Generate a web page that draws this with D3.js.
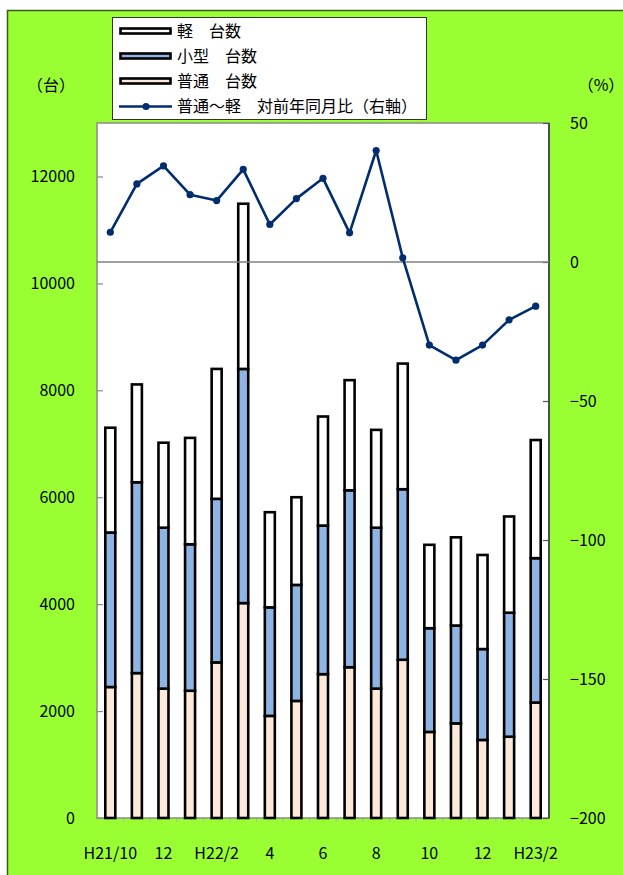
<!DOCTYPE html>
<html><head><meta charset="utf-8">
<script src="https://cdn.jsdelivr.net/npm/d3@7/dist/d3.min.js"></script>
<style>html,body{margin:0;padding:0;background:#fff;}svg{display:block;}</style>
</head><body>
<script>
const categories = ["H21/10","H21/11","H21/12","H22/1","H22/2","H22/3","H22/4","H22/5","H22/6","H22/7","H22/8","H22/9","H22/10","H22/11","H22/12","H23/1","H23/2"];
const tickLabels = ["H21/10","","12","","H22/2","","4","","6","","8","","10","","12","","H23/2"];
const futsu = [2450,2710,2420,2380,2910,4020,1910,2190,2690,2820,2420,2960,1610,1770,1460,1520,2160];
const kogata = [2890,3570,3010,2740,3060,4380,2030,2170,2780,3310,3010,3190,1940,1830,1700,2320,2700];
const kei = [1960,1830,1590,1990,2430,3090,1780,1640,2040,2060,1830,2350,1560,1650,1760,1800,2210];
const yoyPct = [10.7,28.1,34.6,24.2,22.1,33.3,13.5,22.8,30.1,10.5,40.1,1.5,-29.9,-35.3,-29.9,-20.8,-15.9];
const leftTicks = [0,2000,4000,6000,8000,10000,12000];
const rightTicks = [-200,-150,-100,-50,0,50];
const seriesNames = ["軽　台数","小型　台数","普通　台数","普通〜軽　対前年同月比（右軸）"];
const seriesColors = ["#ffffff","#8db4e2","#fde9d9"];
const lineColor = "#002d6e";

const W = 623, H = 875;
const L = 97, R = 549, T = 123, B = 818;
const font = "'Noto Sans CJK JP','Noto Sans',sans-serif";

const svg = d3.select("body").append("svg").attr("width", W).attr("height", H)
  .style("font-family", font);

svg.append("rect").attr("x", 7.5).attr("y", 10.5).attr("width", W).attr("height", H)
  .attr("fill", "#99ff33").attr("stroke", "#3c5a1e").attr("stroke-width", 1.5);

const x = d3.scaleBand().domain(categories).range([L, R]);
const yL = d3.scaleLinear().domain([0, 13000]).range([B, T]);
const yR = d3.scaleLinear().domain([-200, 50]).range([B, T]);

// plot area
svg.append("rect").attr("x", L).attr("y", T).attr("width", R - L).attr("height", B - T)
  .attr("fill", "#fff").attr("stroke", "#8a8a8a").attr("stroke-width", 1.5);
svg.append("line").attr("x1", R).attr("x2", R).attr("y1", T).attr("y2", B)
  .attr("stroke", "#333").attr("stroke-width", 1.5);

// left ticks inward
const leftAxis = d3.axisLeft(yL).tickValues(leftTicks).tickSize(-6).tickPadding(22).tickFormat(d3.format("d"));
const gL = svg.append("g").attr("transform", `translate(${L},0)`).call(leftAxis);
gL.select(".domain").remove();
gL.selectAll(".tick line").attr("stroke", "#8a8a8a").attr("stroke-width", 1.2);
gL.selectAll(".tick text").attr("font-size", 16).attr("fill", "#000").attr("font-family", font);

const rightAxis = d3.axisRight(yR).tickValues(rightTicks).tickSize(-6).tickPadding(21)
  .tickFormat(d => d < 0 ? "−" + Math.abs(d) : String(d));
const gR = svg.append("g").attr("transform", `translate(${R},0)`).call(rightAxis);
gR.select(".domain").remove();
gR.selectAll(".tick line").attr("stroke", "#555").attr("stroke-width", 1.2);
gR.selectAll(".tick text").attr("font-size", 16).attr("fill", "#000").attr("font-family", font);

// bottom small ticks at band boundaries
svg.append("g").selectAll("line").data(categories.slice(1)).join("line")
  .attr("x1", d => x(d)).attr("x2", d => x(d)).attr("y1", B + 1).attr("y2", B + 4)
  .attr("stroke", "#b0b0b0").attr("stroke-width", 1);

// x labels
const xAxis = d3.axisBottom(x).tickSize(0).tickPadding(30).tickFormat((d, i) => tickLabels[i]);
const gX = svg.append("g").attr("transform", `translate(0,${B})`).call(xAxis);
gX.select(".domain").remove();
gX.selectAll(".tick text").attr("font-size", 16).attr("fill", "#000").attr("font-family", font);

// stacked bars
const rows = categories.map((c, i) => ({cat: c, futsu: futsu[i], kogata: kogata[i], kei: kei[i]}));
const stack = d3.stack().keys(["futsu", "kogata", "kei"])(rows);
const stackColors = {futsu: seriesColors[2], kogata: seriesColors[1], kei: seriesColors[0]};
const bw = 10;
svg.append("g").selectAll("g").data(stack).join("g")
  .attr("fill", d => stackColors[d.key])
  .selectAll("rect").data(d => d).join("rect")
  .attr("x", d => x(d.data.cat) + x.bandwidth() / 2 - bw / 2)
  .attr("width", bw)
  .attr("y", d => yL(d[1]))
  .attr("height", d => yL(d[0]) - yL(d[1]))
  .attr("stroke", "#000").attr("stroke-width", 2.6);

// zero line on right axis
svg.append("line").attr("x1", L).attr("x2", R).attr("y1", yR(0)).attr("y2", yR(0))
  .attr("stroke", "#808080").attr("stroke-width", 1.6);

// line series
const line = d3.line().x((d, i) => x(categories[i]) + x.bandwidth() / 2).y(d => yR(d));
svg.append("path").datum(yoyPct).attr("d", line).attr("fill", "none")
  .attr("stroke", lineColor).attr("stroke-width", 2.6).attr("stroke-linejoin", "round");
svg.append("g").selectAll("circle").data(yoyPct).join("circle")
  .attr("cx", (d, i) => x(categories[i]) + x.bandwidth() / 2).attr("cy", d => yR(d))
  .attr("r", 3.6).attr("fill", lineColor);

// axis unit labels
svg.append("text").attr("x", 51).attr("y", 87).attr("text-anchor", "middle")
  .attr("dominant-baseline", "middle").attr("font-size", 16).text("（台）");
svg.append("text").attr("x", 601).attr("y", 87).attr("text-anchor", "middle")
  .attr("dominant-baseline", "middle").attr("font-size", 16).text("（%）");

// legend
const lg = svg.append("g");
lg.append("rect").attr("x", 112.5).attr("y", 17.5).attr("width", 314).attr("height", 102)
  .attr("fill", "#fff").attr("stroke", "#333").attr("stroke-width", 1);
const rowY = [32.5, 57.5, 82.5, 107.5];
[0, 1, 2].forEach(i => {
  lg.append("rect").attr("x", 120.5).attr("y", rowY[i] - 4).attr("width", 50).attr("height", 5)
    .attr("fill", seriesColors[i]).attr("stroke", "#000").attr("stroke-width", 2.6);
});
lg.append("line").attr("x1", 119).attr("x2", 172).attr("y1", rowY[3] - 1).attr("y2", rowY[3] - 1)
  .attr("stroke", lineColor).attr("stroke-width", 2.4);
lg.append("circle").attr("cx", 146).attr("cy", rowY[3] - 1).attr("r", 3.6).attr("fill", lineColor);
seriesNames.forEach((n, i) => {
  lg.append("text").attr("x", 177).attr("y", rowY[i]).attr("dominant-baseline", "middle")
    .attr("font-size", 16).attr("fill", "#000").text(n);
});
</script>
</body></html>
